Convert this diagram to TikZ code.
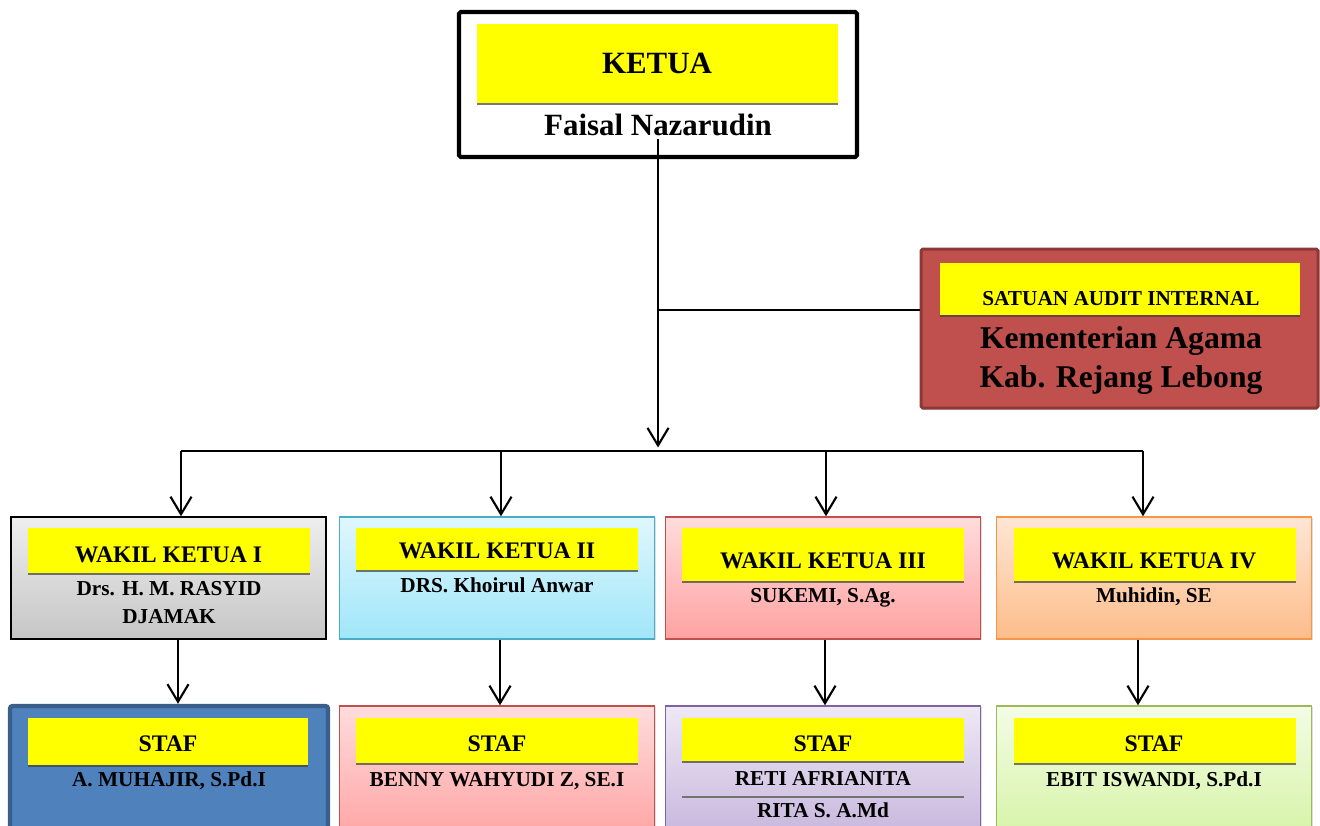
\documentclass[tikz,border=0pt]{standalone}
\usepackage{fontspec}
\setmainfont{Liberation Serif}
\usetikzlibrary{arrows.meta, shadows}
\definecolor{orgBanner}{HTML}{FFFF00}
\definecolor{orgLine}{HTML}{000000}
\definecolor{saiFill}{HTML}{C0504D}
\definecolor{saiEdge}{HTML}{8C3836}
\definecolor{grayTop}{HTML}{EEEEEE}
\definecolor{grayBot}{HTML}{C6C6C6}
\definecolor{blueTop}{HTML}{E0F7FD}
\definecolor{blueBot}{HTML}{A0E6F9}
\definecolor{blueEdge}{HTML}{4BACC6}
\definecolor{redTop}{HTML}{FFDCDC}
\definecolor{redBot}{HTML}{FFA2A2}
\definecolor{redEdge}{HTML}{C0504D}
\definecolor{orangeTop}{HTML}{FFE6D5}
\definecolor{orangeBot}{HTML}{FDBD8A}
\definecolor{orangeEdge}{HTML}{F79646}
\definecolor{stafBlue}{HTML}{4F81BD}
\definecolor{stafBlueEdge}{HTML}{3A5F8B}
\definecolor{purpleTop}{HTML}{EEE9F5}
\definecolor{purpleBot}{HTML}{BBA5D5}
\definecolor{purpleEdge}{HTML}{8064A2}
\definecolor{greenTop}{HTML}{F3FCE5}
\definecolor{greenBot}{HTML}{CDF193}
\definecolor{greenEdge}{HTML}{9BBB59}
\tikzset{
  orgfig/.style={
    >={Straight Barb[length=10pt,width=12pt]},
  },
  unitbox/.style={
    inner sep=0pt, minimum width=6.3cm, minimum height=2.44cm,
    line width=0.85pt,
    drop shadow={shadow xshift=0.6pt, shadow yshift=-0.8pt, opacity=0.25},
  },
  stafbox/.style={unitbox, minimum height=3.48cm},
  % kotak kuning di atas tiap jabatan
  banner/.style={
    fill=orgBanner, inner sep=0pt, minimum width=5.64cm,
    drop shadow={shadow xshift=0.2pt, shadow yshift=-1.1pt, fill=black!75, opacity=0.7},
  },
  headtxt/.style={anchor=base, inner sep=0pt, font=\bfseries\fontsize{17.6}{20}\selectfont},
  bigtxt/.style={anchor=base, inner sep=0pt, font=\bfseries\fontsize{18}{21}\selectfont},
  titletxt/.style={anchor=base, inner sep=0pt, font=\bfseries\fontsize{13.5}{16}\selectfont},
  smalltxt/.style={anchor=base, inner sep=0pt, font=\bfseries\fontsize{12.1}{14}\selectfont},
  link/.style={draw=orgLine, line width=1.2pt},
  bar/.style={draw=orgLine, line width=0.9pt},
  sepline/.style={draw=black!55, line width=1.1pt},
}
\begin{document}
\begin{tikzpicture}[orgfig]
  \useasboundingbox (0,0) rectangle (26.4,-16.5);
  \clip (0,0) rectangle (26.4,-16.5);
  % ketua
  \node[draw=black, line width=2.3pt, rounded corners=1pt, fill=white, minimum width=7.96cm, minimum height=2.9cm, inner sep=0pt] (ketua) at (13.16,-1.69) {};
  \node[banner, minimum width=7.22cm, minimum height=1.58cm] (ketuaBar) at (13.15,-1.27) {};
  \node[headtxt] (ketuaTitle) at (13.14,-1.46) {KETUA};
  \node[headtxt] (ketuaName) at (13.16,-2.70) {Faisal Nazarudin};
  % satuan audit internal
  \node[draw=saiEdge, line width=1.7pt, fill=saiFill, rounded corners=1pt, minimum width=7.94cm, minimum height=3.18cm, inner sep=0pt,
        drop shadow={shadow xshift=0.6pt, shadow yshift=-0.8pt, opacity=0.25}] (sai) at (22.39,-6.57) {};
  \node[banner, minimum width=7.2cm, minimum height=1.04cm] (saiBar) at (22.40,-5.78) {};
  \node[smalltxt] (saiTitle) at (22.42,-6.10) {SATUAN AUDIT INTERNAL};
  \node[bigtxt] (saiName1) at (22.42,-6.96) {Kementerian Agama};
  \node[bigtxt] (saiName2) at (22.42,-7.74) {Kab. Rejang Lebong};
  % wakil ketua
  \node[unitbox, draw=black, top color=grayTop, bottom color=grayBot] (wk1) at (3.37,-11.56) {};
  \node[banner, minimum height=0.9cm] (wk1Bar) at (3.38,-11.01) {};
  \node[titletxt] (wk1Title) at (3.37,-11.24) {WAKIL KETUA I};
  \node[smalltxt] (wk1Name1) at (3.38,-11.90) {Drs. H. M. RASYID};
  \node[smalltxt] (wk1Name2) at (3.38,-12.46) {DJAMAK};
  \node[unitbox, draw=blueEdge, top color=blueTop, bottom color=blueBot] (wk2) at (9.94,-11.56) {};
  \node[banner, minimum height=0.84cm] (wk2Bar) at (9.94,-10.98) {};
  \node[titletxt] (wk2Title) at (9.94,-11.16) {WAKIL KETUA II};
  \node[smalltxt] (wk2Name) at (9.94,-11.84) {DRS. Khoirul Anwar};
  \node[unitbox, draw=redEdge, top color=redTop, bottom color=redBot] (wk3) at (16.46,-11.56) {};
  \node[banner, minimum height=1.06cm] (wk3Bar) at (16.46,-11.09) {};
  \node[titletxt] (wk3Title) at (16.46,-11.36) {WAKIL KETUA III};
  \node[smalltxt] (wk3Name) at (16.46,-12.04) {SUKEMI, S.Ag.};
  \node[unitbox, draw=orangeEdge, top color=orangeTop, bottom color=orangeBot] (wk4) at (23.08,-11.56) {};
  \node[banner, minimum height=1.06cm] (wk4Bar) at (23.09,-11.09) {};
  \node[titletxt] (wk4Title) at (23.08,-11.36) {WAKIL KETUA IV};
  \node[smalltxt] (wk4Name) at (23.08,-12.04) {Muhidin, SE};
  % staf
  \node[stafbox, draw=stafBlueEdge, line width=2.5pt, rounded corners=1.5pt, fill=stafBlue, minimum width=6.36cm] (staf1) at (3.38,-15.86) {};
  \node[banner, minimum width=5.6cm, minimum height=0.94cm] (staf1Bar) at (3.36,-14.83) {};
  \node[titletxt] (staf1Title) at (3.36,-15.03) {STAF};
  \node[smalltxt] (staf1Name) at (3.38,-15.72) {A. MUHAJIR, S.Pd.I};
  \node[stafbox, draw=redEdge, top color=redTop, bottom color=redBot!90!red] (staf2) at (9.94,-15.86) {};
  \node[banner, minimum height=0.9cm] (staf2Bar) at (9.94,-14.81) {};
  \node[titletxt] (staf2Title) at (9.94,-15.03) {STAF};
  \node[smalltxt] (staf2Name) at (9.94,-15.72) {BENNY WAHYUDI Z, SE.I};
  \node[stafbox, draw=purpleEdge, top color=purpleTop, bottom color=purpleBot] (staf3) at (16.46,-15.86) {};
  \node[banner, minimum height=0.86cm] (staf3Bar) at (16.46,-14.79) {};
  \node[titletxt] (staf3Title) at (16.46,-15.03) {STAF};
  \node[smalltxt] (staf3Name1) at (16.46,-15.70) {RETI AFRIANITA};
  \draw[sepline] (13.64,-15.94) -- (19.28,-15.94);
  \node[smalltxt] (staf3Name2) at (16.46,-16.34) {RITA S. A.Md};
  \node[stafbox, draw=greenEdge, top color=greenTop, bottom color=greenBot] (staf4) at (23.08,-15.86) {};
  \node[banner, minimum height=0.9cm] (staf4Bar) at (23.09,-14.81) {};
  \node[titletxt] (staf4Title) at (23.08,-15.03) {STAF};
  \node[smalltxt] (staf4Name) at (23.08,-15.72) {EBIT ISWANDI, S.Pd.I};
  % garis komando
  \coordinate (bus) at (13.16,-9.02);
  \coordinate (saiJoin) at (13.16,-6.20);
  \coordinate (d1) at (3.62,-9.02);
  \coordinate (d2) at (10.02,-9.02);
  \coordinate (d3) at (16.52,-9.02);
  \coordinate (d4) at (22.86,-9.02);
  \coordinate (s1) at (3.56,0);
  \coordinate (s2) at (10.00,0);
  \coordinate (s3) at (16.50,0);
  \coordinate (s4) at (22.76,0);
  \draw[link, ->, shorten >=2pt] ([yshift=-2pt]ketuaName.south) -- (bus);
  \draw[bar] (saiJoin) -- (saiJoin -| sai.west);
  \draw[bar] (d1) -- (d4);
  \draw[link, ->] (d1) -- (d1 |- wk1.north);
  \draw[link, ->] (d2) -- (d2 |- wk2.north);
  \draw[link, ->] (d3) -- (d3 |- wk3.north);
  \draw[link, ->] (d4) -- (d4 |- wk4.north);
  \draw[link, ->] (s1 |- wk1.south) -- (s1 |- staf1.north);
  \draw[link, ->] (s2 |- wk2.south) -- (s2 |- staf2.north);
  \draw[link, ->] (s3 |- wk3.south) -- (s3 |- staf3.north);
  \draw[link, ->] (s4 |- wk4.south) -- (s4 |- staf4.north);
\end{tikzpicture}
\end{document}
